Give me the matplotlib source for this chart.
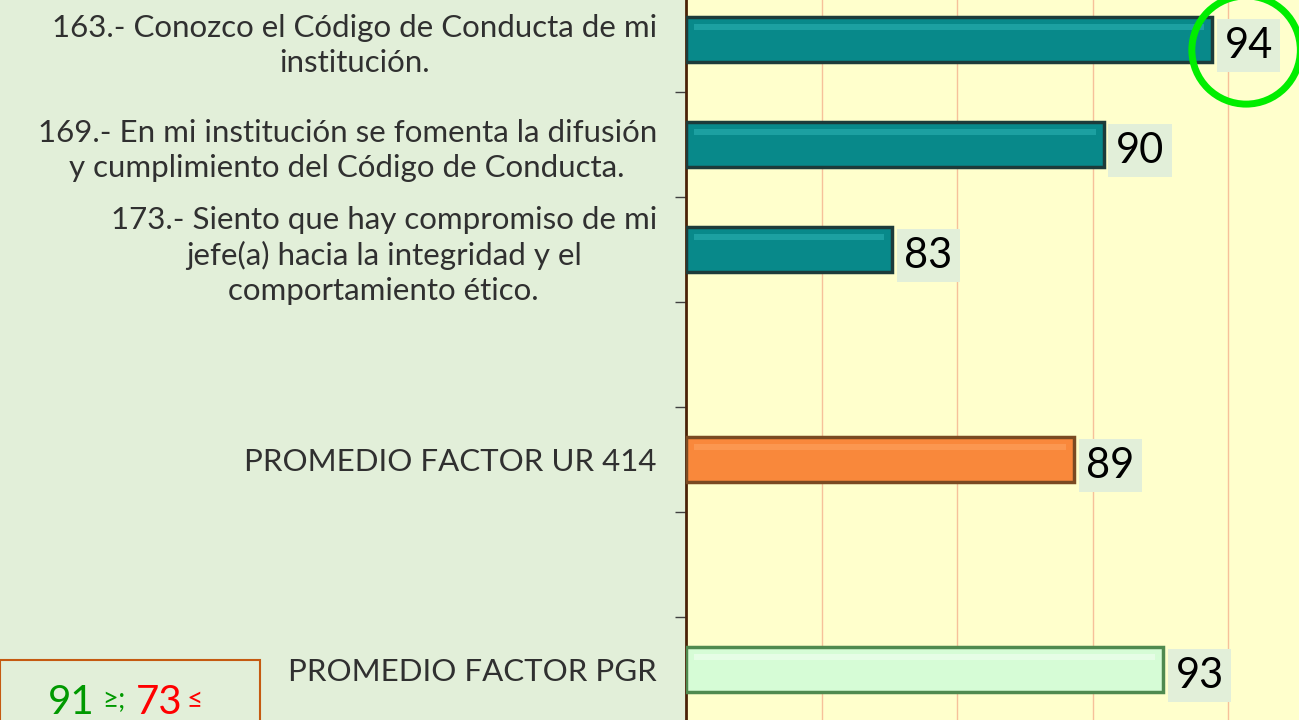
import numpy as np
import matplotlib
matplotlib.use("Agg")
import matplotlib.pyplot as plt
from matplotlib.patches import Ellipse, Rectangle

plt.rcParams['font.family'] = ['Lato', 'DejaVu Sans']

# datos
categories = [
    "163.- Conozco el Código de Conducta de mi\ninstitución.",
    "169.- En mi institución se fomenta la difusión\ny cumplimiento del Código de Conducta.",
    "173.- Siento que hay compromiso de mi\njefe(a) hacia la integridad y el\ncomportamiento ético.",
    "",
    "PROMEDIO FACTOR UR 414",
    "",
    "PROMEDIO FACTOR PGR",
]
values = [94.4, 90.4, 82.6, np.nan, 89.3, np.nan, 92.6]
bar_colors = ['#08898a', '#08898a', '#08898a', 'none', '#f9883b', 'none', '#d6fcd6']
edge_colors = ['#1d3b3a', '#1d3b3a', '#1d3b3a', 'none', '#7a4a22', 'none', '#4f8a4f']
shine_colors = ['#3cc4c4', '#3cc4c4', '#3cc4c4', 'none', '#ffb070', 'none', '#ffffff']

fig = plt.figure(figsize=(12.99, 7.2), dpi=100)
fig.patch.set_facecolor('#e2efd9')

ax = fig.add_axes([0.5281, -0.0028, 0.4719, 1.0208])
ax.set_facecolor('#ffffcc')

y = np.arange(len(categories))
vals = np.array(values)

ax.barh(y, vals - 75, left=75, height=0.42, color=bar_colors,
        edgecolor=edge_colors, linewidth=2.5, zorder=3)
# brillo superior (efecto bisel)
ax.barh(y - 0.12, vals - 75.6, left=75.3, height=0.06, color=shine_colors,
        alpha=0.4, linewidth=0, zorder=4)

for yi, v in zip(y, vals):
    if np.isnan(v):
        continue
    ax.text(v + 0.45, yi + 0.06, f"{v:.0f}", fontsize=30, color='black',
            va='center', ha='left', zorder=5,
            bbox=dict(boxstyle='square,pad=0.18', fc='#e2efd9', ec='none'))

# círculo verde sobre el valor máximo
ax.add_patch(Ellipse((values[0] + 1.25, 0.1), 4.0, 1.03, fill=False,
                     ec='#00ee00', lw=5, zorder=6, clip_on=False))

ax.set_xlim(75, 97.6)
ax.set_ylim(6.5, -0.5)
ax.set_xticks([80, 85, 90, 95])
ax.tick_params(axis='x', length=0, labelbottom=False)
ax.grid(axis='x', color='#f6c09a', lw=1, zorder=0)

ax.set_yticks(y)
ax.set_yticklabels(categories, fontsize=22.5, color='#303030')
for lab in ax.get_yticklabels():
    lab.set_multialignment('center')
    lab.set_linespacing(1.3)
ax.tick_params(axis='y', which='major', length=0, pad=21)
ax.set_yticks(y[:-1] + 0.5, minor=True)
ax.tick_params(axis='y', which='minor', length=8, width=1, color='#404040')

for s in ['top', 'right', 'bottom']:
    ax.spines[s].set_visible(False)
ax.spines['left'].set_color('#4a2208')
ax.spines['left'].set_linewidth(2)

# cuadro de rangos
fig.patches.append(Rectangle((0, -0.05), 260 / 1299, 0.05 + 60 / 720,
                             transform=fig.transFigure, fill=False,
                             ec='#c55a11', lw=1.5))
fig.text(48 / 1299, 1 - 702 / 720, "91", fontsize=29, color='#009900', va='center')
fig.text(102 / 1299, 1 - 700 / 720, "≥;", fontsize=20, color='#009900', va='center')
fig.text(136 / 1299, 1 - 702 / 720, "73", fontsize=29, color='#ff0000', va='center')
fig.text(186 / 1299, 1 - 700 / 720, "≤", fontsize=20, color='#ff0000', va='center')

fig.savefig("out.png", dpi=100, facecolor=fig.get_facecolor())
